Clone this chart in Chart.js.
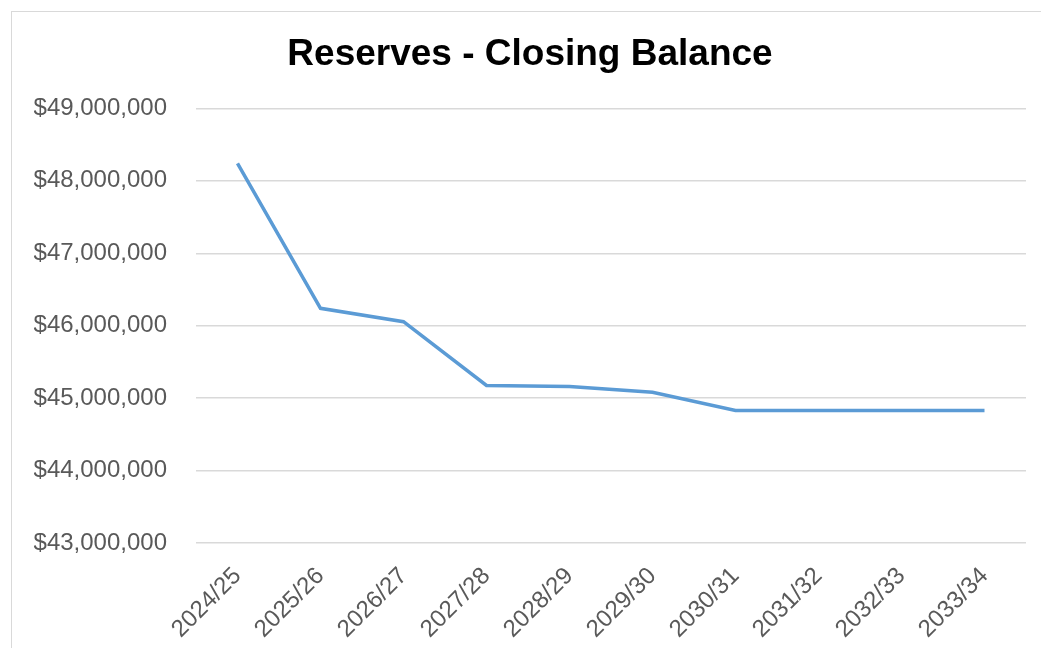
<!DOCTYPE html>
<html>
<head>
<meta charset="utf-8">
<title>Reserves - Closing Balance</title>
<script src="https://cdn.jsdelivr.net/npm/chart.js@4"></script>
<style>
  html, body { margin: 0; padding: 0; background: #fff; overflow: hidden; }
  #frame {
    position: absolute; left: 11px; top: 11px;
    width: 1060px; height: 660px;
    border: 1px solid #d9d9d9; box-sizing: border-box;
  }
  #wrap { position: absolute; left: 12px; top: 12px; width: 1042px; height: 636px; }
</style>
</head>
<body>
<div id="frame"></div>
<div id="wrap"><canvas id="reserves"></canvas></div>
<script>
// financial years and closing balance of reserves
var years = ['2024/25', '2025/26', '2026/27', '2027/28', '2028/29',
             '2029/30', '2030/31', '2031/32', '2032/33', '2033/34'];
var closingBalance = [48240000, 46240000, 46055000, 45175000, 45160000,
                      45080000, 44830000, 44830000, 44830000, 44830000];
var yTicks = [43000000, 44000000, 45000000, 46000000, 47000000, 48000000, 49000000];

var fontFamily = '"Liberation Sans", Arial, sans-serif';

var ctx = document.getElementById('reserves').getContext('2d');
var reservesChart = new Chart(ctx, {
    type: 'line',
    data: {
        labels: years,
        datasets: [{
            label: 'Closing Balance',
            data: closingBalance,
            borderColor: '#5B9BD5',
            backgroundColor: '#5B9BD5',
            borderWidth: 3.5,
            pointRadius: 0,
            tension: 0,
            fill: false
        }]
    },
    options: {
        responsive: true,
        maintainAspectRatio: false,
        animation: false,
        layout: {
            padding: { left: 22, right: 28, top: 0, bottom: 0 }
        },
        plugins: {
            legend: { display: false },
            tooltip: { enabled: false },
            title: {
                display: true,
                text: 'Reserves - Closing Balance',
                color: '#000',
                font: { family: fontFamily, size: 37, weight: 'bold' },
                padding: { top: 21, bottom: 31 }
            }
        },
        scales: {
            x: {
                offset: true,
                grid: { display: false },
                border: { display: false },
                afterFit: function (axis) { axis.height = 105; },
                ticks: {
                    color: '#595959',
                    font: { family: fontFamily, size: 24 },
                    minRotation: 45,
                    maxRotation: 45,
                    padding: 11
                }
            },
            y: {
                min: 43000000,
                max: 49000000,
                afterBuildTicks: function (axis) {
                    axis.ticks = yTicks.map(function (v) { return { value: v }; });
                },
                afterFit: function (axis) { axis.width = 162; },
                grid: { color: '#d9d9d9', lineWidth: 1.5, drawTicks: false },
                border: { display: false },
                ticks: {
                    color: '#595959',
                    font: { family: fontFamily, size: 24 },
                    padding: 29,
                    callback: function (v) {
                        return '$' + Number(v).toLocaleString('en-US');
                    }
                }
            }
        }
    }
});
</script>
</body>
</html>
